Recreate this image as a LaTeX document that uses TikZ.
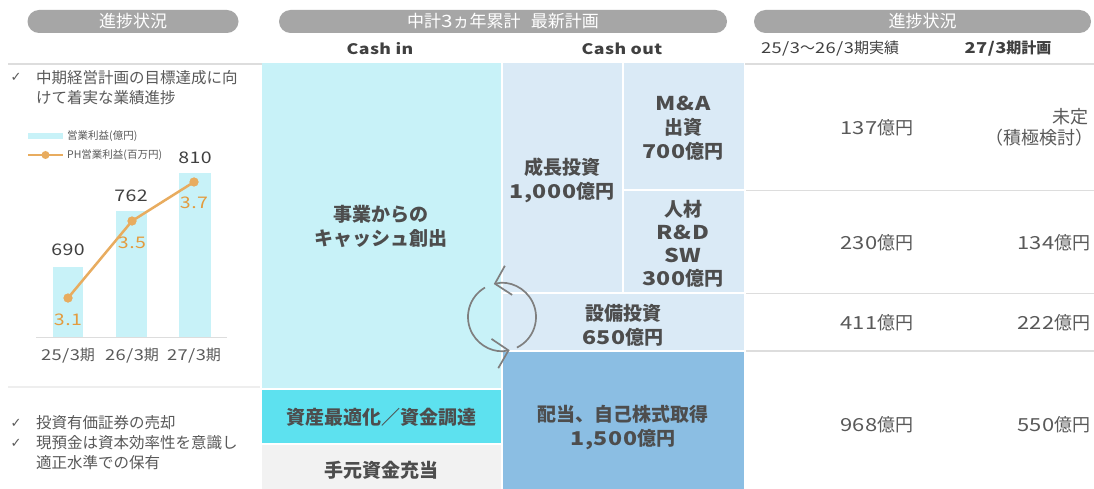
\documentclass[tikz,border=0pt]{standalone}
\usepackage{fontspec}
\setmainfont{Noto Sans CJK JP}
\newfontfamily\symf{DejaVu Sans}
\newfontfamily\widefont{Noto Sans CJK JP}[FakeStretch=1.22, LetterSpace=3]
\newcommand\wn[1]{{\widefont #1}}
\usetikzlibrary{arrows.meta}
\definecolor{pillgray}{HTML}{A6A6A6}
\definecolor{txtdark}{HTML}{404040}
\definecolor{txtgray}{HTML}{595959}
\definecolor{blkgray}{HTML}{4D4D4D}
\definecolor{cyanlt}{HTML}{C8F2F8}
\definecolor{cyanbr}{HTML}{5DE1EF}
\definecolor{graylt}{HTML}{F2F2F2}
\definecolor{bluelt}{HTML}{DAEAF6}
\definecolor{bluemd}{HTML}{8BBEE3}
\definecolor{orln}{HTML}{E8AC5F}
\definecolor{ortx}{HTML}{E39B3E}
\definecolor{sepc}{HTML}{DDDDDD}
\definecolor{arrg}{HTML}{7F7F7F}
\tikzset{
  pillbox/.style={fill=pillgray, rounded corners=11.5pt, minimum height=23pt, inner sep=0pt, text=white, font=\fontsize{17}{19}\selectfont},
  colhead/.style={text=txtdark, inner sep=0pt, font=\fontsize{15}{17}\selectfont},
  blktext/.style={align=center, text=blkgray, inner sep=0pt, font=\fontsize{19}{24}\selectfont\bfseries},
  body/.style={text=txtgray, inner sep=0pt, align=left, anchor=west, font=\fontsize{15.5}{20}\selectfont},
  chk/.style={text=txtgray, inner sep=0pt, font=\symf\fontsize{13}{15}\selectfont},
  val/.style={text=txtgray, inner sep=0pt, anchor=east, font=\fontsize{18}{21}\selectfont},
  sepline/.style={draw=sepc, line width=1.5pt},
  bar/.style={fill=cyanlt},
  dot/.style={circle, fill=orln, inner sep=0pt, minimum size=9pt},
  num/.style={text=txtdark, inner sep=0pt, font=\fontsize{16}{18}\selectfont},
  onum/.style={text=ortx, inner sep=0pt, font=\fontsize{16}{18}\selectfont},
  xlab/.style={text=txtgray, inner sep=0pt, font=\fontsize{15}{18}\selectfont},
  leg/.style={text=txtgray, inner sep=0pt, anchor=west, font=\fontsize{10.5}{12}\selectfont},
  cyc/.style={draw=arrg, line width=1.7pt, -{Straight Barb[length=14pt, width=30pt, line width=1.7pt]}},
}
\begin{document}
\begin{tikzpicture}[x=1pt, y=1pt]
\useasboundingbox (0,0) rectangle (1094,-489);
\fill[white] (0,0) rectangle (1094,-489);

% header pills
\node[pillbox, minimum width=211pt] (p1) at (133,-21.5) {進捗状況};
\node[pillbox, minimum width=448pt] (p2) at (503,-21.5) {中計\wn{3}ヵ年累計\hspace{0.6em}最新計画};
\node[pillbox, minimum width=337pt] (p3) at (922.5,-21.5) {進捗状況};

% column headers
\node[colhead, font=\fontsize{14.5}{17}\selectfont\bfseries] (hin) at (380,-49) {\wn{Cash in}};
\node[colhead, font=\fontsize{14.5}{17}\selectfont\bfseries] (hout) at (622,-49) {\wn{Cash out}};
\node[colhead] (hact) at (830,-49) {\wn{25/3}～\wn{26/3}期実績};
\node[colhead, font=\fontsize{15}{17}\selectfont\bfseries] (hplan) at (1008,-49) {\wn{27/3}期計画};

% separator lines
\draw[sepline] (8,-64) -- (262,-64);
\draw[sepline] (745,-64) -- (1094,-64);
\draw[sepline] (746,-190.5) -- (1094,-190.5);
\draw[sepline] (746,-293.5) -- (1094,-293.5);
\draw[sepline] (746,-351) -- (1094,-351);
\draw[draw=graylt!80!sepc, line width=2.5pt] (8,-387) -- (260,-387);

% cash in blocks
\fill[cyanlt] (262,-63) rectangle (501,-388);
\fill[cyanbr] (262,-390) rectangle (501,-443);
\fill[graylt] (262,-445) rectangle (501,-489);
% cash out blocks
\fill[bluelt] (503,-63) rectangle (622,-292);
\fill[bluelt] (624,-63) rectangle (744,-189);
\fill[bluelt] (624,-191) rectangle (744,-292);
\fill[bluelt] (503,-294) rectangle (744,-350);
\fill[bluemd] (503,-352) rectangle (744,-489);

\node[blktext] (bcash) at (381,-226) {事業からの\\キャッシュ創出};
\node[blktext] (basset) at (381,-417) {資産最適化／資金調達};
\node[blktext] (bhand) at (381,-470) {手元資金充当};
\node[blktext] (bgrow) at (562,-180) {成長投資\\\wn{1,000}億円};
\node[blktext] (bma) at (683,-128) {\wn{M\&A}\\出資\\\wn{700}億円};
\node[blktext, font=\fontsize{19}{23}\selectfont\bfseries] (bhr) at (683,-244) {人材\\\wn{R\&D}\\\wn{SW}\\\wn{300}億円};
\node[blktext] (bcap) at (623,-325) {設備投資\\\wn{650}億円};
\node[blktext] (bdiv) at (623,-427) {配当、自己株式取得\\\wn{1,500}億円};

% cycle arrow
\coordinate (cc) at (502,-317);
\draw[cyc] (cc) ++(-64:34) arc[start angle=-64, end angle=104, radius=34pt];
\draw[cyc] (cc) ++(120:34) arc[start angle=120, end angle=283, radius=34pt];

% right values
\node[val] (v1a) at (914,-128) {\wn{137}億円};
\node[val] (v1b) at (1089,-117) {未定};
\node[val] (v1c) at (1093.5,-138) {（積極検討）};
\node[val] (v2a) at (914,-243) {\wn{230}億円};
\node[val] (v2b) at (1091,-243) {\wn{134}億円};
\node[val] (v3a) at (914,-323) {\wn{411}億円};
\node[val] (v3b) at (1091,-323) {\wn{222}億円};
\node[val] (v4a) at (914,-425) {\wn{968}億円};
\node[val] (v4b) at (1091,-425) {\wn{550}億円};

% left texts
\node[chk] (c1) at (16,-77) {✓};
\node[body] (t1) at (36,-87.5) {中期経営計画の目標達成に向\\けて着実な業績進捗};
\node[chk] (c2) at (16,-423) {✓};
\node[body] (t2) at (36,-423) {投資有価証券の売却};
\node[chk] (c3) at (16,-443) {✓};
\node[body] (t3) at (36,-453) {現預金は資本効率性を意識し\\適正水準での保有};

% chart legend
\fill[cyanlt] (28,-133) rectangle (63,-139);
\node[leg] (l1) at (67,-136) {営業利益(億円)};
\coordinate (la) at (28,-155);
\coordinate (lb) at (63,-155);
\draw[orln, line width=2.5pt] (la) -- (lb);
\node[dot, minimum size=8pt] (ld) at (45.5,-155) {};
\node[leg] (l2) at (67,-155) {PH営業利益(百万円)};

% bars
\fill[bar] (53,-267) rectangle (83,-337);
\fill[bar] (116,-211) rectangle (147,-337);
\fill[bar] (179,-173) rectangle (211,-337);
\draw[draw=sepc, line width=1.5pt] (36,-337.5) -- (227,-337.5);

\node[num] (n1) at (68,-250) {\wn{690}};
\node[num] (n2) at (131,-196) {\wn{762}};
\node[num] (n3) at (195,-158) {\wn{810}};

\node[dot] (d1) at (68,-298) {};
\node[dot] (d2) at (132,-221) {};
\node[dot] (d3) at (194,-182) {};
\draw[orln, line width=2.5pt] (d1.center) -- (d2.center) -- (d3.center);
\node[dot] at (d1) {};
\node[dot] at (d2) {};
\node[dot] at (d3) {};

\node[onum] (o1) at (68,-320) {\wn{3.1}};
\node[onum] (o2) at (132,-243) {\wn{3.5}};
\node[onum] (o3) at (194,-203) {\wn{3.7}};

\node[xlab] (x1) at (68,-356) {\wn{25/3}期};
\node[xlab] (x2) at (132,-356) {\wn{26/3}期};
\node[xlab] (x3) at (194,-356) {\wn{27/3}期};
\end{tikzpicture}
\end{document}
